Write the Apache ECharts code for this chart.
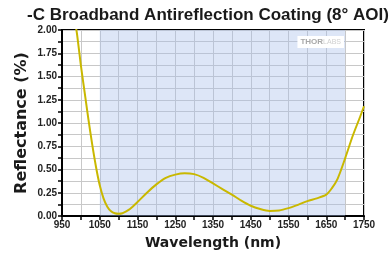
<!DOCTYPE html>
<html>
<head>
<meta charset="utf-8">
<script src="https://cdn.jsdelivr.net/npm/echarts@6/dist/echarts.min.js"></script>
<style>
  html, body { margin: 0; padding: 0; background: #fff; }
  #main { width: 389px; height: 257px; }
</style>
</head>
<body>
<div id="main"></div>
<script>
// 波长 (nm)
var wavelength = [985, 990, 1000, 1010, 1020, 1030, 1040, 1050, 1060, 1070, 1080, 1090, 1100, 1110, 1120, 1130,
  1150, 1175, 1200, 1225, 1250, 1275, 1300, 1325, 1350, 1375, 1400, 1425, 1450, 1475, 1500, 1525,
  1550, 1575, 1600, 1625, 1650, 1665, 1680, 1700, 1720, 1740, 1750];
// 反射率 (%)
var reflectance = [2.08, 1.95, 1.62, 1.33, 1.04, 0.77, 0.53, 0.33, 0.19, 0.10, 0.05, 0.03, 0.025, 0.03, 0.05, 0.075,
  0.15, 0.25, 0.34, 0.41, 0.445, 0.46, 0.45, 0.41, 0.35, 0.29, 0.23, 0.165, 0.11, 0.075, 0.055, 0.06,
  0.085, 0.12, 0.16, 0.19, 0.23, 0.30, 0.40, 0.62, 0.86, 1.07, 1.18];
// 阴影区 (设计波段)
var bandRange = [1050, 1700];

var data = [];
for (var i = 0; i < wavelength.length; i++) {
  data.push([wavelength[i], reflectance[i]]);
}

var myChart = echarts.init(document.getElementById('main'), null, { renderer: 'canvas' });
var labelFont = { color: '#222', fontSize: 10, fontWeight: 'bold', fontFamily: 'Liberation Sans, Arial' };

var option = {
  animation: false,
  title: {
    text: '-C Broadband Antireflection Coating (8° AOI)',
    left: 22,
    top: 2,
    textStyle: { color: '#1a1a1a', fontSize: 17, fontWeight: 'bold', fontFamily: 'Liberation Sans, Arial' }
  },
  grid: {
    left: 62, right: 25, top: 30, bottom: 41,
    show: true, borderColor: '#000', borderWidth: 2, backgroundColor: '#fff'
  },
  xAxis: {
    type: 'value',
    min: 950, max: 1750, interval: 50,
    name: 'Wavelength (nm)',
    nameLocation: 'center',
    nameGap: 20,
    nameMoveOverlap: false,
    nameTextStyle: { color: '#1a1a1a', fontSize: 14, fontWeight: 'bold', fontFamily: 'DejaVu Sans' },
    axisLine: { lineStyle: { color: '#000', width: 2 } },
    axisTick: { length: 4, lineStyle: { color: '#000', width: 1.5 } },
    axisLabel: Object.assign({ margin: 4, showMaxLabel: true, formatter: function (v) {
      return ((v - 950) % 100 === 0) ? String(v) : '';
    } }, labelFont),
    splitLine: { show: true, lineStyle: { color: '#c8c8c8', width: 1 } }
  },
  yAxis: {
    type: 'value',
    min: 0, max: 2, interval: 0.125,
    name: 'Reflectance (%)',
    nameLocation: 'center',
    nameGap: 32,
    nameMoveOverlap: false,
    nameTextStyle: { color: '#1a1a1a', fontSize: 16, fontWeight: 'bold', fontFamily: 'DejaVu Sans' },
    axisLine: { lineStyle: { color: '#000', width: 2 } },
    axisTick: { length: 4, lineStyle: { color: '#000', width: 1.5 } },
    axisLabel: Object.assign({ margin: 5, formatter: function (v) {
      return (Math.round(v * 8) % 2 === 0) ? v.toFixed(2) : '';
    } }, labelFont),
    splitLine: { show: true, lineStyle: { color: '#c8c8c8', width: 1 } }
  },
  graphic: [
    {
      type: 'text',
      right: 45,
      top: 36,
      z: 10,
      style: {
        text: '{a|THOR}{b|LABS}',
        backgroundColor: '#fff',
        padding: [2, 3],
        rich: {
          a: { fill: '#a8a8a8', fontSize: 8, fontWeight: 'bold', fontFamily: 'Liberation Sans, Arial' },
          b: { fill: '#d0d0d0', fontSize: 7, fontFamily: 'Liberation Sans, Arial' }
        }
      }
    }
  ],
  series: [
    {
      type: 'line',
      data: data,
      smooth: 0.3,
      showSymbol: false,
      clip: true,
      lineStyle: { color: '#c9b800', width: 2 },
      markArea: {
        silent: true,
        itemStyle: { color: 'rgba(165,188,235,0.38)' },
        data: [[{ xAxis: bandRange[0] }, { xAxis: bandRange[1] }]]
      }
    }
  ]
};
myChart.setOption(option);
</script>
</body>
</html>
